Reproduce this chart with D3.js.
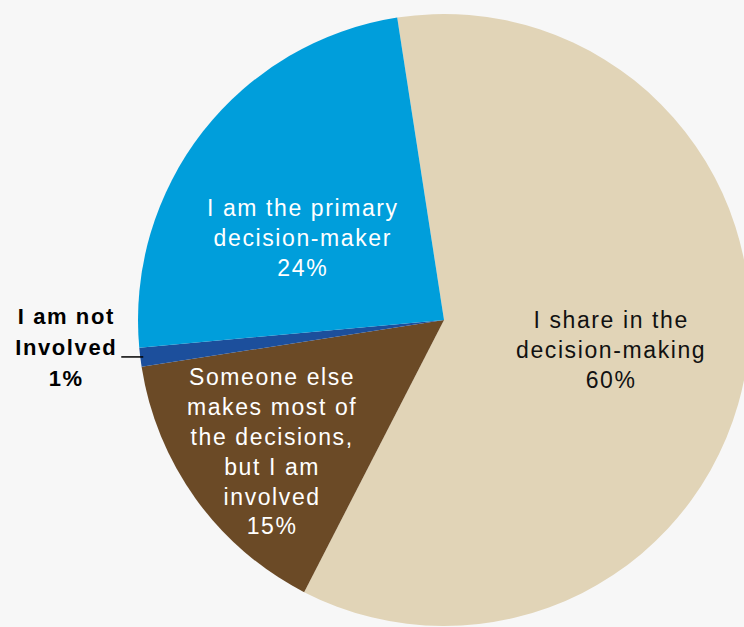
<!DOCTYPE html>
<html>
<head>
<meta charset="utf-8">
<script src="https://cdn.jsdelivr.net/npm/d3@7"></script>
<style>
	html, body { margin: 0; padding: 0; background: #f7f7f7; }
	svg { display: block; }
	text { font-family: 'Liberation Sans', Arial, sans-serif; }
</style>
</head>
<body>
<div id="chart"></div>
<script>
var labels = [
	['I share in the', 'decision-making'],
	['Someone else', 'makes most of', 'the decisions,', 'but I am', 'involved'],
	['I am not', 'Involved'],
	['I am the primary', 'decision-maker']
];
var values = [60, 15, 1, 24];
var colors = ['#e1d4b7', '#6b4a26', '#1c4f9c', '#009edb'];

(function() {
	var width = 744,
		height = 627,
		cx = 444,
		cy = 320,
		radius = 306,
		lineH = 29.8;

	var svg = d3.select('#chart').append('svg')
		.attr('width', width)
		.attr('height', height);

	svg.append('rect')
		.attr('width', width)
		.attr('height', height)
		.attr('fill', '#f7f7f7');

	var start = -8.8 * Math.PI / 180;
	var pie = d3.pie().sort(null)
		.startAngle(start)
		.endAngle(start + 2 * Math.PI);
	var arcs = pie(values);

	var arc = d3.arc().innerRadius(0).outerRadius(radius);
	var g = svg.append('g').attr('transform', 'translate(' + cx + ',' + cy + ')');

	g.selectAll('path.slice')
		.data(arcs)
		.enter()
		.append('path')
		.attr('class', 'slice')
		.attr('d', arc)
		.attr('fill', function(d, i) { return colors[i]; });

	// inside labels: radius as fraction of pie radius, angle nudge in degrees
	var labelFrac = [0.555, 0.708, null, 0.534];
	var labelShift = [1, -1.7, 0, -7.8];
	var textColor = ['#111', '#fff', '#000', '#fff'];

	arcs.forEach(function(d, i) {
		var lines = labels[i].concat([values[i] + '%']);
		var mid = (d.startAngle + d.endAngle) / 2;
		if(labelFrac[i] !== null) {
			var c = d3.pointRadial(mid + labelShift[i] * Math.PI / 180, radius * labelFrac[i]);
			var t = g.append('text')
				.attr('text-anchor', 'middle')
				.attr('font-size', 23)
				.attr('letter-spacing', 1.6)
				.attr('fill', textColor[i]);
			lines.forEach(function(s, j) {
				t.append('tspan')
					.attr('x', c[0])
					.attr('y', c[1] + (j - (lines.length - 1) / 2) * lineH)
					.attr('dy', '0.35em')
					.text(s);
			});
		} else {
			// outside label with short leader
			var p = d3.pointRadial(mid, radius - 3);
			var lx = p[0] - 22;
			g.append('path')
				.attr('d', 'M' + p[0] + ',' + p[1] + 'L' + lx + ',' + p[1])
				.attr('stroke', '#000')
				.attr('stroke-width', 1.5)
				.attr('fill', 'none');
			var t2 = g.append('text')
				.attr('text-anchor', 'middle')
				.attr('font-size', 22)
				.attr('font-weight', 'bold')
				.attr('letter-spacing', 1.6)
				.attr('fill', textColor[i]);
			var tx = lx - 55;
			var ty = p[1] - 10;
			lines.forEach(function(s, j) {
				t2.append('tspan')
					.attr('x', tx)
					.attr('y', ty + (j - (lines.length - 1) / 2) * 31)
					.attr('dy', '0.35em')
					.text(s);
			});
		}
	});
})();
</script>
</body>
</html>
